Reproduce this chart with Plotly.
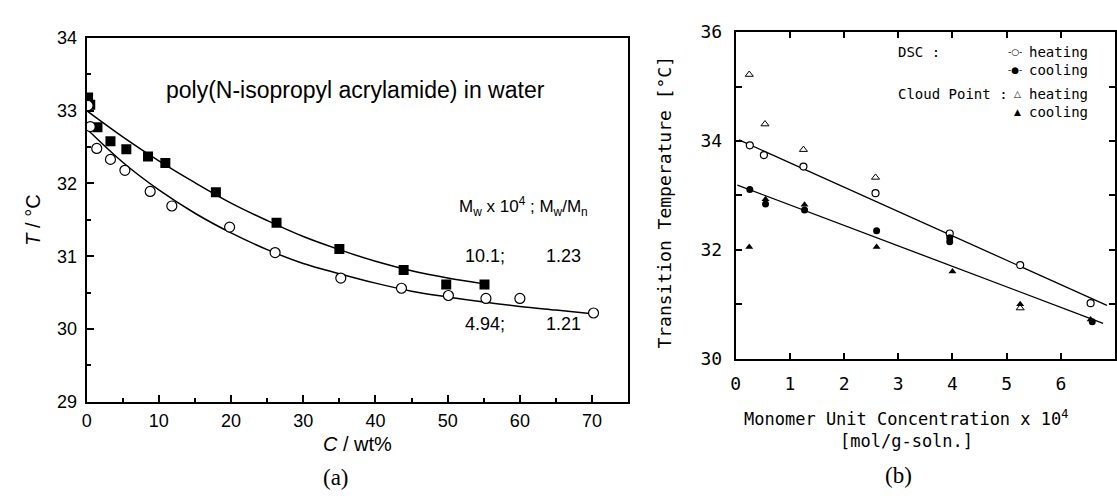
import plotly.graph_objects as go

# ---------------- panel (a): PNIPAM in water, T vs C ----------------
# Mw = 10.1e4, Mw/Mn = 1.23 (filled squares)
conc_hi = [0.2, 0.5, 1.5, 3.3, 5.5, 8.5, 10.9, 17.9, 26.3, 35.0, 43.9, 49.8, 55.1]
temp_hi = [33.18, 33.08, 32.77, 32.58, 32.47, 32.37, 32.28, 31.88, 31.46, 31.10, 30.81, 30.61, 30.61]
# Mw = 4.94e4, Mw/Mn = 1.21 (open circles)
conc_lo = [0.2, 0.5, 1.4, 3.3, 5.3, 8.8, 11.8, 19.8, 26.1, 35.2, 43.6, 50.1, 55.3, 60.0, 70.2]
temp_lo = [33.07, 32.78, 32.48, 32.33, 32.18, 31.89, 31.69, 31.40, 31.05, 30.70, 30.56, 30.46, 30.42, 30.42, 30.22]
# fitted curves through the two data sets
curve_hi_c = [0, 5, 10, 15, 20, 25, 30, 35, 40, 45, 50, 55]
curve_hi_t = [33.00, 32.64, 32.31, 32.01, 31.73, 31.49, 31.27, 31.09, 30.93, 30.80, 30.70, 30.62]
curve_lo_c = [0, 5, 10, 15, 20, 25, 30, 35, 40, 45, 50, 55, 60, 65, 70]
curve_lo_t = [32.75, 32.29, 31.91, 31.59, 31.32, 31.09, 30.90, 30.76, 30.63, 30.52, 30.44, 30.37, 30.31, 30.26, 30.21]

# ---------------- panel (b): transition temperature vs concentration ----------------
dsc_heat_c = [0.26, 0.52, 1.25, 2.58, 3.95, 5.25, 6.55]
dsc_heat_t = [33.92, 33.74, 33.53, 33.04, 32.30, 31.72, 31.02]
dsc_cool_c = [0.26, 0.55, 1.27, 2.60, 3.95, 3.95, 6.58]
dsc_cool_t = [33.11, 32.84, 32.73, 32.35, 32.22, 32.15, 30.68]
cp_heat_c = [0.25, 0.54, 1.25, 2.58, 5.25]
cp_heat_t = [35.22, 34.31, 33.84, 33.33, 30.93]
cp_cool_c = [0.25, 0.55, 1.27, 2.60, 4.00, 5.25, 6.55]
cp_cool_t = [32.05, 32.93, 32.83, 32.05, 31.60, 31.00, 30.72]
# linear fits (end points)
fit_heat_c = [0.06, 6.85]
fit_heat_t = [34.02, 30.98]
fit_cool_c = [0.03, 6.78]
fit_cool_t = [33.19, 30.65]

W, H = 1117, 498


def px(x):
    return x / W


def py(y):
    return 1 - y / H


SANS = "Liberation Sans, Arial, sans-serif"
PLOT = "DejaVu Sans Mono, monospace"
SERIF = "Liberation Serif, Times New Roman, serif"

fig = go.Figure()

# panel (a) curves and points
fig.add_trace(go.Scatter(x=curve_hi_c, y=curve_hi_t, mode="lines", line=dict(color="black", width=1.5, shape="spline"),
                         xaxis="x", yaxis="y", hoverinfo="skip"))
fig.add_trace(go.Scatter(x=curve_lo_c, y=curve_lo_t, mode="lines", line=dict(color="black", width=1.5, shape="spline"),
                         xaxis="x", yaxis="y", hoverinfo="skip"))
fig.add_trace(go.Scatter(x=conc_hi, y=temp_hi, mode="markers",
                         marker=dict(symbol="square", size=10, color="black"), xaxis="x", yaxis="y"))
fig.add_trace(go.Scatter(x=conc_lo, y=temp_lo, mode="markers",
                         marker=dict(symbol="circle", size=10, color="white", line=dict(color="black", width=1.2)),
                         xaxis="x", yaxis="y"))

# panel (b) fits and points
fig.add_trace(go.Scatter(x=fit_heat_c, y=fit_heat_t, mode="lines", line=dict(color="black", width=1.3),
                         xaxis="x2", yaxis="y2", hoverinfo="skip"))
fig.add_trace(go.Scatter(x=fit_cool_c, y=fit_cool_t, mode="lines", line=dict(color="black", width=1.3),
                         xaxis="x2", yaxis="y2", hoverinfo="skip"))
fig.add_trace(go.Scatter(x=cp_heat_c, y=cp_heat_t, mode="markers",
                         marker=dict(symbol="triangle-up", size=7, color="white", line=dict(color="black", width=1)),
                         xaxis="x2", yaxis="y2"))
fig.add_trace(go.Scatter(x=cp_cool_c, y=cp_cool_t, mode="markers",
                         marker=dict(symbol="triangle-up", size=7, color="black"),
                         xaxis="x2", yaxis="y2"))
fig.add_trace(go.Scatter(x=dsc_heat_c, y=dsc_heat_t, mode="markers",
                         marker=dict(symbol="circle", size=7, color="white", line=dict(color="black", width=1.2)),
                         xaxis="x2", yaxis="y2"))
fig.add_trace(go.Scatter(x=dsc_cool_c, y=dsc_cool_t, mode="markers",
                         marker=dict(symbol="circle", size=7, color="black"),
                         xaxis="x2", yaxis="y2"))

axis_common = dict(showgrid=False, zeroline=False, showline=True, linecolor="black",
                   ticks="inside", tickcolor="black")

fig.update_layout(
    width=W, height=H, margin=dict(l=0, r=0, t=0, b=0),
    paper_bgcolor="white", plot_bgcolor="white", showlegend=False,
    xaxis=dict(axis_common, domain=[px(82), px(626)], range=[0, 75], tick0=0, dtick=10,
               mirror=True, linewidth=2, ticklen=7, tickwidth=1.5,
               minor=dict(dtick=5, ticks="inside", ticklen=4, tickcolor="black"),
               tickfont=dict(family=SANS, size=18, color="black"), ticklabelstandoff=2, anchor="y"),
    yaxis=dict(axis_common, domain=[py(408), py(28)], range=[29, 34], tick0=29, dtick=1,
               mirror=True, linewidth=2, ticklen=7, tickwidth=1.5,
               minor=dict(dtick=0.5, ticks="inside", ticklen=4, tickcolor="black"),
               tickfont=dict(family=SANS, size=18, color="black"), ticklabelstandoff=4, anchor="x"),
    xaxis2=dict(axis_common, domain=[px(734), px(1115)], range=[0, 7], tick0=0, dtick=1,
                mirror="ticks", linewidth=1.8, ticklen=6, tickwidth=1.5,
                tickfont=dict(family=PLOT, size=18, color="black"), ticklabelstandoff=8, anchor="y2"),
    yaxis2=dict(axis_common, domain=[py(363), py(22)], range=[30, 36], tick0=30, dtick=2,
                mirror="ticks", linewidth=1.8, ticklen=6, tickwidth=1.5,
                minor=dict(dtick=1, ticks="inside", ticklen=6, tickcolor="black"),
                tickfont=dict(family=PLOT, size=18, color="black"), ticklabelstandoff=8, anchor="x2"),
)

ann = []


def text(x, y, s, size, family, xref="paper", yref="paper", xanchor="center", yanchor="middle", angle=0):
    ann.append(dict(x=x, y=y, text=s, xref=xref, yref=yref, showarrow=False, xanchor=xanchor,
                    yanchor=yanchor, textangle=angle, font=dict(family=family, size=size, color="black")))


# panel (a) labels
text(37.3, 33.28, "poly(N-isopropyl acrylamide) in water", 23, SANS, "x", "y")
text(60.5, 31.68, "M<sub>w</sub> x 10<sup>4</sup> ; M<sub>w</sub>/M<sub>n</sub>", 17, SANS, "x", "y")
text(55.2, 31.0, "10.1;", 18, SANS, "x", "y")
text(66.1, 31.0, "1.23", 18, SANS, "x", "y")
text(55.1, 30.07, "4.94;", 18, SANS, "x", "y")
text(66.1, 30.07, "1.21", 18, SANS, "x", "y")
text(px(28), py(218), "<i>T</i> / °C", 20, SANS, angle=-90)
text(px(354), py(452), "<i>C</i> / wt%", 20, SANS)
text(px(332), py(487), "(a)", 23, SERIF)

# panel (b) labels
text(px(663), py(200), "Transition Temperature [°C]", 18, PLOT, angle=-90)
text(px(905), py(425), "Monomer Unit Concentration x 10<sup>4</sup>", 17, PLOT)
text(px(906), py(449), "[mol/g-soln.]", 17, PLOT)
text(px(898), py(485), "(b)", 23, SERIF)

# panel (b) key
text(px(895), py(43), "DSC :", 14, PLOT, xanchor="left")
text(px(895), py(87), "Cloud Point :", 14, PLOT, xanchor="left")
text(px(1006), py(43), "-○-", 9, "DejaVu Sans", xanchor="left")
text(px(1006), py(62), "-●-", 9, "DejaVu Sans", xanchor="left")
text(px(1012), py(87), "△", 9, "DejaVu Sans", xanchor="left")
text(px(1012), py(105), "▲", 9, "DejaVu Sans", xanchor="left")
for yy, s in [(43, "heating"), (62, "cooling"), (87, "heating"), (105, "cooling")]:
    text(px(1027), py(yy), s, 14, PLOT, xanchor="left")

fig.update_layout(annotations=ann)
fig.write_html("out.html")
